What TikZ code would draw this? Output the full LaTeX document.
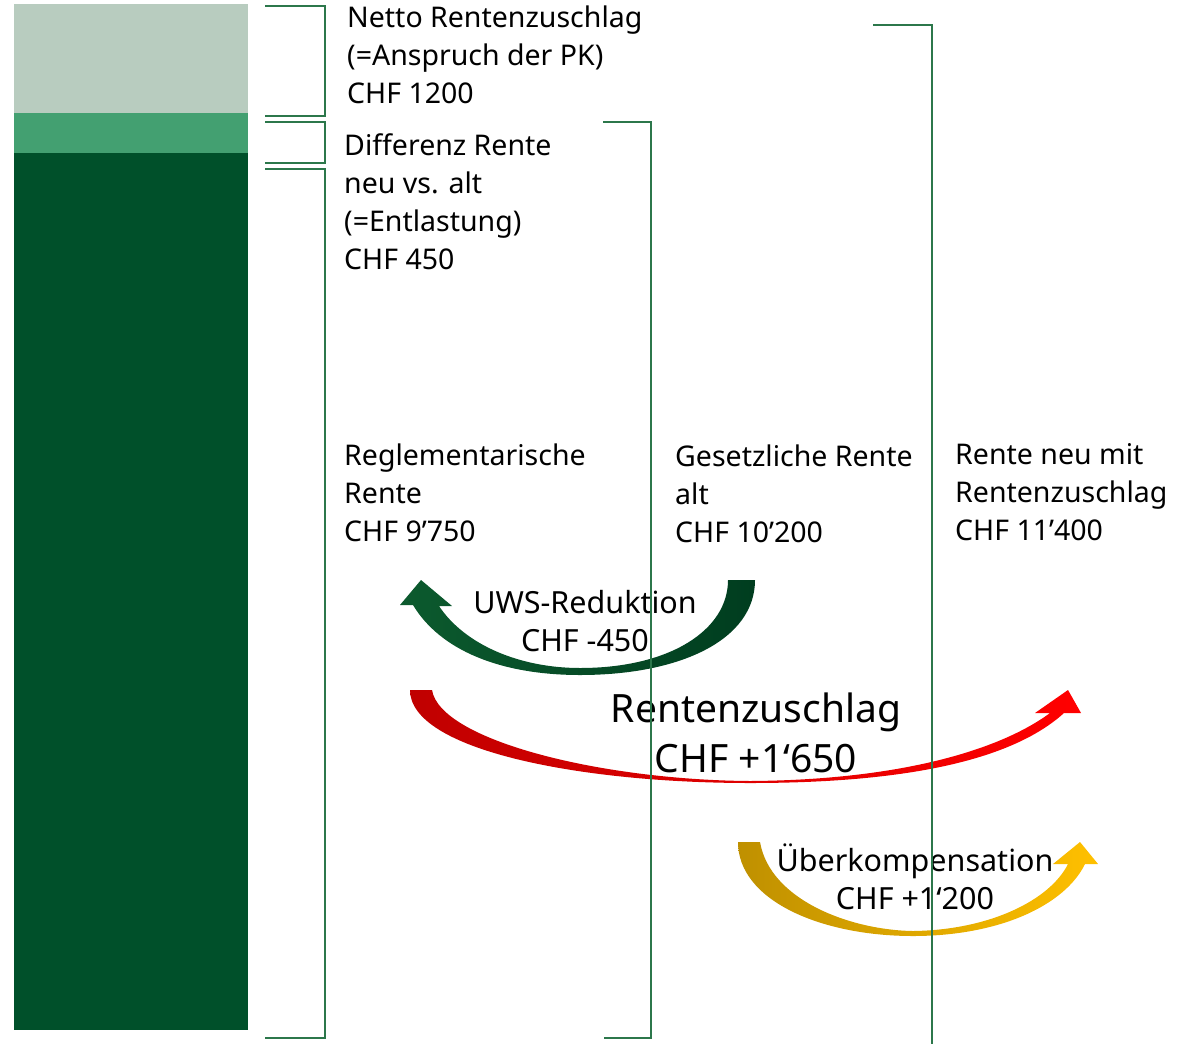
\documentclass[tikz,border=0pt]{standalone}
\usepackage{fontspec}
\setmainfont{Noto Sans}
\usetikzlibrary{positioning}

\definecolor{hellgruen}{HTML}{B8CCBF}
\definecolor{mittelgruen}{HTML}{43A071}
\definecolor{dunkelgruen}{HTML}{00502A}
\definecolor{liniengruen}{HTML}{2C774B}
\definecolor{pfeilgruenA}{HTML}{0C5A2E}
\definecolor{pfeilgruenB}{HTML}{003D1F}
\definecolor{rotA}{HTML}{C00000}
\definecolor{rotB}{HTML}{FF0000}
\definecolor{goldA}{HTML}{BF9000}
\definecolor{goldB}{HTML}{FFC000}

\tikzset{
  klammer/.style={draw=liniengruen,line width=1.3pt},
  etikett/.style={anchor=north west,inner sep=0pt,align=left,font=\fontsize{28.5}{38}\selectfont},
  pfeiltext/.style={anchor=north,inner sep=0pt,align=center,font=\fontsize{30.5}{38}\selectfont},
}

\begin{document}
\begin{tikzpicture}[x=1pt,y=-1pt]
\useasboundingbox (0,0) rectangle (1182,1044);

% la barre
\fill[hellgruen] (14,4) rectangle (248,113);
\fill[mittelgruen] (14,113) rectangle (248,153);
\fill[dunkelgruen] (14,153) rectangle (248,1030);

% les textes
\node[etikett] (netto) at (347,5.3) {Netto Rentenzuschlag\\(=Anspruch der PK)\\CHF 1200};
\node[etikett] (diff) at (344,133.3) {Differenz Rente\\neu vs. alt\\(=Entlastung)\\CHF 450};
\node[etikett] (regl) at (344,443.3) {Reglementarische\\Rente\\CHF 9’750};
\node[etikett] (gesetz) at (675,444.3) {Gesetzliche Rente\\alt\\CHF 10’200};
\node[etikett] (neu) at (955,443.3) {Rente neu mit\\Rentenzuschlag\\CHF 11’400};

% les fleches courbes
\shade[left color=pfeilgruenA,right color=pfeilgruenB]
  (755,580) .. controls (755,640) and (680,675) .. (580,675)
  .. controls (500,675) and (440,650) .. (413,605)
  -- (400,605) -- (421,580) -- (452,606) -- (439,606)
  .. controls (465,645) and (520,668) .. (580,668)
  .. controls (670,668) and (728,630) .. (728,580) -- cycle;
\shade[left color=rotA,right color=rotB]
  (432,690) .. controls (440,740) and (600,780) .. (750,781)
  .. controls (900,780) and (1000,750) .. (1050,713)
  -- (1035,713) -- (1068,690) -- (1081,713) -- (1064,713)
  .. controls (1010,762) and (900,783) .. (750,783)
  .. controls (580,783) and (410,750) .. (410,690) -- cycle;
\shade[left color=goldA,right color=goldB]
  (760,842) .. controls (770,900) and (850,930) .. (913,931)
  .. controls (990,930) and (1050,900) .. (1068,864)
  -- (1053,864) -- (1080,842) -- (1098,864) -- (1085,864)
  .. controls (1065,905) and (1000,936) .. (913,936)
  .. controls (820,936) and (738,900) .. (738,842) -- cycle;

\node[pfeiltext] (uws) at (585,589.8) {UWS-Reduktion\\CHF -450};
\node[pfeiltext,font=\fontsize{39}{50}\selectfont] (zuschlag) at (756,692.4) {Rentenzuschlag\\CHF +1‘650};
\node[pfeiltext] (ueber) at (915,844) {Überkompensation\\CHF +1‘200};

% les crochets
\draw[klammer] (265,6) -- (325,6) -- (325,116) -- (265,116);
\draw[klammer] (265,122) -- (325,122) -- (325,163) -- (265,163);
\draw[klammer] (265,169) -- (325,169) -- (325,1038) -- (265,1038);
\draw[klammer] (603,122) -- (651,122) -- (651,1038) -- (604,1038);
\draw[klammer] (873,25) -- (932,25) -- (932,1044);

\end{tikzpicture}
\end{document}
